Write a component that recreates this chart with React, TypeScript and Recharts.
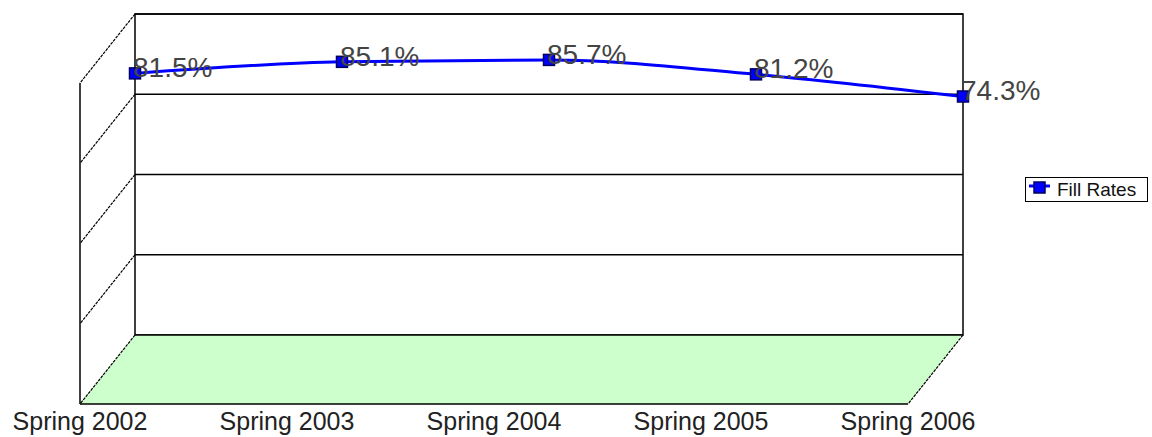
import React from 'react';
import { LineChart, Line, XAxis, YAxis, CartesianGrid, LabelList, usePlotArea } from 'recharts';

const categories = ['Spring 2002', 'Spring 2003', 'Spring 2004', 'Spring 2005', 'Spring 2006'];
const fillRates = [81.5, 85.1, 85.7, 81.2, 74.3];
const yTicks = [0, 25, 50, 75, 100];
const seriesName = 'Fill Rates';

const data = categories.map((c, i) => ({ name: c, value: fillRates[i] }));

const DEPTH_X = -55;
const DEPTH_Y = 69;
const FONT = '"Liberation Sans", Arial, sans-serif';

function Frame3D() {
  const area = usePlotArea();
  if (!area) return null;
  const { x, y, width, height } = area;
  const left = x, right = x + width, top = y, bottom = y + height;
  const yOf = (t: number) => top + height * (1 - t / 100);
  return (
    <g>
      <polygon
        points={`${left},${top} ${left},${bottom} ${left + DEPTH_X},${bottom + DEPTH_Y} ${left + DEPTH_X},${top + DEPTH_Y}`}
        fill="#ffffff"
        stroke="none"
      />
      <polygon
        points={`${left},${bottom} ${right},${bottom} ${right + DEPTH_X},${bottom + DEPTH_Y} ${left + DEPTH_X},${bottom + DEPTH_Y}`}
        fill="#ccffcc"
        stroke="none"
      />
      {yTicks.map((t) => (
        <line
          key={t}
          x1={left}
          y1={yOf(t)}
          x2={left + DEPTH_X}
          y2={yOf(t) + DEPTH_Y}
          stroke="#000"
          strokeWidth={1.2}
          strokeDasharray="3 1"
        />
      ))}
      <line x1={right} y1={bottom} x2={right + DEPTH_X} y2={bottom + DEPTH_Y} stroke="#000" strokeWidth={1.2} strokeDasharray="3 1" />
      <line x1={left + DEPTH_X} y1={top + DEPTH_Y} x2={left + DEPTH_X} y2={bottom + DEPTH_Y} stroke="#000" strokeWidth={1.5} />
      <line x1={left + DEPTH_X} y1={bottom + DEPTH_Y} x2={right + DEPTH_X} y2={bottom + DEPTH_Y} stroke="#000" strokeWidth={1.5} />
      <rect x={left} y={top} width={width} height={height} fill="none" stroke="#000" strokeWidth={1.5} />
    </g>
  );
}

const SquareDot = (props: any) => {
  const { cx, cy } = props;
  if (cx == null || cy == null) return null;
  return <rect x={cx - 5.5} y={cy - 5.5} width={11} height={11} fill="#0000ff" stroke="#000060" strokeWidth={1.5} />;
};

const ValueLabel = (props: any) => {
  const { x, y, value } = props;
  return (
    <text x={x - 2} y={y + 4} textAnchor="start" fontSize={28} fontFamily={FONT} fill="#444">
      {`${value}%`}
    </text>
  );
};

const CategoryTick = (props: any) => {
  const { x, y, payload } = props;
  return (
    <text x={x + DEPTH_X} y={y + DEPTH_Y + 26} textAnchor="middle" fontSize={25} fontFamily={FONT} fill="#222">
      {payload.value}
    </text>
  );
};

const LegendBox = () => (
  <div
    style={{
      position: 'absolute',
      left: 1025,
      top: 177,
      border: '1.5px solid #000',
      width: 123,
      height: 25,
      display: 'flex',
      alignItems: 'center',
      background: '#fff',
      boxSizing: 'border-box',
      fontFamily: FONT,
      fontSize: 19,
      color: '#111',
    }}
  >
    <svg width={31} height={22} style={{ flex: 'none' }}>
      <line x1={3} y1={7} x2={24} y2={7} stroke="#0000ff" strokeWidth={3} />
      <rect x={8} y={3} width={11} height={11} fill="#0000ff" stroke="#000060" strokeWidth={1.5} />
    </svg>
    <span style={{ whiteSpace: 'nowrap' }}>{seriesName}</span>
  </div>
);

export default function App() {
  return (
    <div style={{ position: 'absolute', left: 0, top: 0, width: 1152, height: 437, background: '#fff', overflow: 'hidden' }}>
      <LineChart width={1152} height={437} data={data} margin={{ top: 14, right: 189, left: 135, bottom: 72 }}>
        <Frame3D />
        <CartesianGrid vertical={false} stroke="#000" strokeWidth={1.5} strokeOpacity={1} />
        <XAxis dataKey="name" height={30} axisLine={false} tickLine={false} tickSize={0} tickMargin={0} tick={<CategoryTick />} interval={0} />
        <YAxis hide width={0} domain={[0, 100]} ticks={yTicks} />
        <Line
          type="monotone"
          dataKey="value"
          name={seriesName}
          stroke="#0000ff"
          strokeWidth={3}
          dot={<SquareDot />}
          activeDot={false}
          isAnimationActive={false}
        >
          <LabelList dataKey="value" content={<ValueLabel />} />
        </Line>
      </LineChart>
      <LegendBox />
    </div>
  );
}
